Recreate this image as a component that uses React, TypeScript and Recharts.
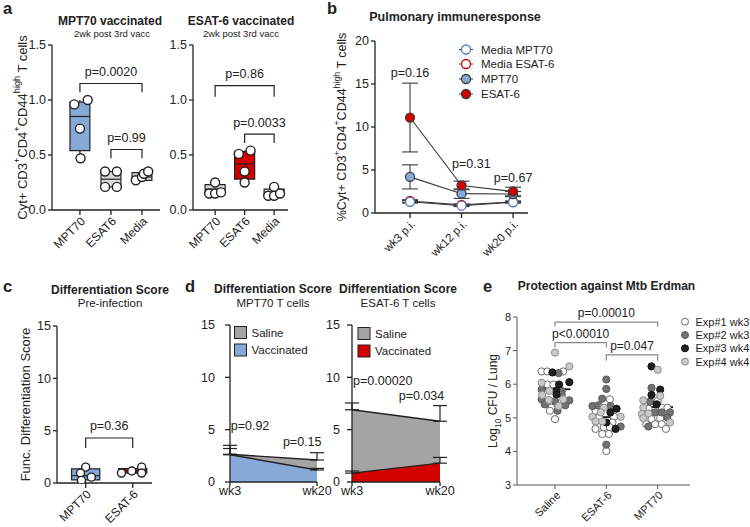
import React from "react";
import {
  ComposedChart,
  Line,
  Area,
  Scatter,
  XAxis,
  YAxis,
  ReferenceArea,
  ReferenceLine,
  ReferenceDot,
  ErrorBar,
} from "recharts";

const FONT = "'Liberation Sans', Arial, Helvetica, sans-serif";
const INK = "#222222";
const BLUE = "#86a9d8";
const BLUE_EDGE = "#4d7cc4";
const RED = "#d40000";
const PALE = "#dadada";
const SALINE_GREY = "#a4a4a4";

// ---- a: restimulation 2wk post 3rd vacc ----
const STIM = ["MPT70", "ESAT6", "Media"];
// [min, q1, median, q3, max]
const MPT70_VAC_STATS = [
  [0.47, 0.54, 0.85, 0.98, 1.0],
  [0.21, 0.21, 0.28, 0.35, 0.35],
  [0.27, 0.27, 0.3, 0.34, 0.35],
];
// [jitter, value]
const MPT70_VAC_PTS = [
  [[0.02, 0.47], [0, 0.74], [-0.18, 0.96], [0.25, 1.0]],
  [[-0.19, 0.35], [0.19, 0.35], [-0.19, 0.21], [0.19, 0.21]],
  [[-0.2, 0.27], [0, 0.3], [0.06, 0.33], [0.2, 0.35]],
];
const MPT70_VAC_P = [
  { from: 0, to: 2, top: 1.15, drop: 1.07, label: "p=0.0020" },
  { from: 1, to: 2, top: 0.55, drop: 0.47, label: "p=0.99" },
];

const ESAT6_VAC_STATS = [
  [0.15, 0.15, 0.19, 0.23, 0.25],
  [0.25, 0.28, 0.42, 0.53, 0.54],
  [0.13, 0.13, 0.16, 0.19, 0.21],
];
const ESAT6_VAC_PTS = [
  [[0, 0.25], [-0.2, 0.15], [0, 0.15], [0.2, 0.16]],
  [[-0.2, 0.51], [0.2, 0.54], [0, 0.35], [0, 0.25]],
  [[0, 0.21], [-0.2, 0.13], [0, 0.13], [0.2, 0.15]],
];
const ESAT6_VAC_P = [
  { from: 0, to: 2, top: 1.13, drop: 1.03, label: "p=0.86" },
  { from: 1, to: 2, top: 0.69, drop: 0.61, label: "p=0.0033" },
];

// ---- b: pulmonary response ----
const WEEKS_B = ["wk3 p.i.", "wk12 p.i.", "wk20 p.i."];
const MEDIA_MPT70 = [1.3, 0.85, 1.25];
const MEDIA_ESAT6 = [1.4, 0.95, 1.3];
const MEDIA_ERR = [0.15, 0.1, 0.1];
const MPT70_LUNG = [4.2, 2.25, 2.2];
const MPT70_LUNG_ERR = [1.4, 0.55, 0.3];
const ESAT6_LUNG = [11.1, 3.2, 2.5];
const ESAT6_LUNG_ERR = [4.0, 0.5, 0.5];
const LUNG_P = [
  { x: 0, y: 16.3, label: "p=0.16" },
  { x: 1.19, y: 5.8, label: "p=0.31" },
  { x: 2, y: 4.1, label: "p=0.67" },
];

// ---- c: pre-infection score ----
const PRE_GROUPS = ["MPT70", "ESAT-6"];
const PRE_STATS = [
  [0.25, 0.3, 0.7, 1.35, 1.55],
  [0.95, 0.95, 1.15, 1.38, 1.52],
];
const PRE_PTS = [
  [[0, 1.52], [-0.11, 0.95], [0.12, 0.56], [-0.09, 0.25]],
  [[0.19, 1.52], [-0.02, 1.15], [0.19, 0.95], [-0.24, 0.95]],
];
const PRE_P = [{ from: 0, to: 1, top: 4.3, drop: 3.35, label: "p=0.36" }];

// ---- d: score over time ----
const D_WEEKS = ["wk3", "wk20"];
const MPT70_SALINE = [2.65, 2.1];
const MPT70_SALINE_ERR = [0.85, 0.7];
const MPT70_VACC = [2.6, 1.15];
const MPT70_VACC_ERR = [0.6, 0.15];
const MPT70_D_P = [
  { x: 0.23, y: 5.4, label: "p=0.92" },
  { x: 0.83, y: 3.9, label: "p=0.15" },
];
const ESAT6_SALINE = [6.9, 5.8];
const ESAT6_SALINE_ERR = [0.65, 1.5];
const ESAT6_VACC = [0.85, 1.8];
const ESAT6_VACC_ERR = [0.2, 0.55];
const ESAT6_D_P = [
  { x: 0.35, y: 9.7, label: "p=0.00020" },
  { x: 0.79, y: 8.27, label: "p=0.034" },
];

// ---- e: protection ----
const GROUPS_E = ["Saline", "ESAT-6", "MPT70"];
const EXP_NAMES = ["Exp#1 wk3", "Exp#2 wk3", "Exp#3 wk4", "Exp#4 wk4"];
// per group: [jitter, log10 CFU]
const EXP1_CFU = [
  [[-0.26, 6.38], [-0.15, 6.38], [0.16, 6.38], [-0.15, 5.99], [-0.03, 5.99], [-0.07, 5.3], [-0.1, 5.21], [0, 4.96]],
  [[0.07, 5.55], [-0.21, 5.21], [-0.14, 5.01], [0.15, 5.03], [0.12, 4.86], [-0.21, 4.67], [-0.05, 4.72], [0.07, 4.72], [-0.08, 4.52], [0.05, 4.52], [0, 4.01]],
  [[0, 5.5], [-0.18, 5.27], [0.08, 5.3], [0.19, 5.3], [-0.12, 4.96], [0.05, 4.99], [-0.22, 4.81], [-0.05, 4.81], [0.08, 4.81], [0.16, 4.67]],
];
const EXP2_CFU = [
  [[0.07, 6.33], [-0.26, 5.84], [0.13, 5.8], [0.13, 5.7], [-0.26, 5.55], [0, 5.5], [0.28, 5.52], [-0.2, 5.4], [0.2, 5.37], [0.05, 5.21]],
  [[0, 6.14], [0, 5.86], [-0.08, 5.57], [-0.27, 5.35], [-0.16, 5.37], [0.08, 5.35], [0.28, 4.74], [0, 4.2]],
  [[-0.12, 5.89], [-0.15, 5.48], [-0.05, 5.16], [0.08, 5.16], [0.24, 5.16], [0.19, 5.01], [-0.18, 4.74]],
];
const EXP3_CFU = [
  [[-0.05, 6.35], [0.08, 5.99], [0.28, 6.06], [0.02, 5.8], [0.03, 5.7]],
  [[0.2, 5.27], [0.08, 5.16], [0, 4.86], [0.18, 4.67]],
  [[-0.12, 6.53], [0.05, 5.84], [-0.12, 5.68], [-0.02, 5.4]],
];
const EXP4_CFU = [
  [[0, 6.94], [0.28, 6.53], [-0.26, 6.04], [-0.11, 5.8], [-0.25, 5.68], [-0.12, 5.53], [0.16, 5.55], [0.07, 5.35]],
  [[-0.05, 5.3], [-0.11, 5.16], [-0.27, 5.03], [0.28, 5.03], [-0.21, 4.89], [-0.08, 4.89]],
  [[0, 6.43], [0.05, 5.65], [-0.28, 5.52], [-0.28, 5.3], [-0.31, 5.11], [-0.18, 5.13], [-0.28, 4.99], [0.24, 4.86]],
];
const CFU_MEANS = [5.85, 5.02, 5.32];
const CFU_P = [
  { from: 0, to: 2, top: 7.85, drop: 7.72, label: "p=0.00010" },
  { from: 0, to: 1, top: 7.24, drop: 7.09, label: "p<0.00010" },
  { from: 1, to: 2, top: 6.87, drop: 6.7, label: "p=0.047" },
];

const EXP_FILL = ["#ffffff", "#727272", "#1f1f1f", "#cacaca"];
const EXP_EDGE = ["#6a6a6a", "#5a5a5a", "#111111", "#8c8c8c"];

const A_YLABEL = [["Cyt+ CD3"], ["+", "sup"], ["CD4"], ["+", "sup"], ["CD44"], ["high", "sup"], [" T cells"]];
const B_YLABEL = [["%Cyt+ CD3"], ["+", "sup"], ["CD4"], ["+", "sup"], ["CD44"], ["high", "sup"], [" T cells"]];
const C_YLABEL = [["Func. Differentiation Score"]];
const E_YLABEL = [["Log"], ["10", "sub"], [" CFU / Lung"]];

const axisLine = { stroke: INK, strokeWidth: 1.3 };
const tickLine = { stroke: INK, strokeWidth: 1.3 };

function VTitle(props: any) {
  const { viewBox, dx, size, parts } = props;
  const x = (viewBox?.x ?? 0) + dx;
  const y = (viewBox?.y ?? 0) + (viewBox?.height ?? 0) / 2;
  return (
    <text
      x={x}
      y={y}
      transform={`rotate(-90 ${x} ${y})`}
      textAnchor="middle"
      dominantBaseline="central"
      fontSize={size}
      fill={INK}
      fontFamily={FONT}
    >
      {parts.map((p: string[], i: number) =>
        p[1] ? (
          <tspan key={i} baselineShift={p[1] === "sup" ? "super" : "sub"} fontSize="70%">
            {p[0]}
          </tspan>
        ) : (
          <tspan key={i}>{p[0]}</tspan>
        )
      )}
    </text>
  );
}

function SlantTick(props: any) {
  const { x, y, payload, names, size } = props;
  const ax = x + 6;
  const ay = y + 5;
  return (
    <text
      x={ax}
      y={ay}
      transform={`rotate(-45 ${ax} ${ay})`}
      textAnchor="end"
      fontSize={size}
      fill={INK}
      fontFamily={FONT}
    >
      {names[payload.value]}
    </text>
  );
}

function bracketLine(b: any, key: string, color: string) {
  const pts = [
    { x: b.from, y: b.drop },
    { x: b.from, y: b.top },
    { x: b.to, y: b.top },
    { x: b.to, y: b.drop },
  ];
  return (
    <Line
      key={key}
      data={pts}
      dataKey="y"
      stroke={color}
      strokeWidth={1.2}
      dot={false}
      activeDot={false}
      isAnimationActive={false}
    />
  );
}

function BoxChart(props: any) {
  const {
    left, top, width, height, plotTop, right, yAxisW, xAxisH, xDomain, yDomain, yTicks,
    yFmt, names, stats, pts, fills, brackets, half, dotR, yTitle,
  } = props;
  const dot = (p: any) => (
    <circle cx={p.cx} cy={p.cy} r={dotR} fill="#fff" stroke={INK} strokeWidth={1.4} />
  );
  return (
    <div style={{ position: "absolute", left, top }}>
      <ComposedChart width={width} height={height} margin={{ top: plotTop, right, bottom: 0, left: 0 }}>
        <XAxis
          type="number"
          dataKey="x"
          domain={xDomain}
          ticks={names.map((_: string, i: number) => i)}
          interval={0}
          allowDataOverflow
          height={xAxisH}
          axisLine={axisLine}
          tickLine={tickLine}
          tickSize={5}
          tick={<SlantTick names={names} size={12} />}
        />
        <YAxis
          type="number"
          domain={yDomain}
          ticks={yTicks}
          allowDataOverflow
          width={yAxisW}
          tickFormatter={yFmt}
          axisLine={axisLine}
          tickLine={tickLine}
          tickSize={4}
          tickMargin={2}
          tick={{ fontSize: 12.5, fill: INK, fontFamily: FONT }}
          label={yTitle}
        />
        {stats.map((s: number[], i: number) => [
          <ReferenceArea
            key={`box${i}`}
            x1={i - half}
            x2={i + half}
            y1={s[1]}
            y2={s[3]}
            fill={fills[i]}
            fillOpacity={1}
            stroke={INK}
            strokeWidth={1.2}
            ifOverflow="visible"
          />,
          <ReferenceLine key={`med${i}`} segment={[{ x: i - half, y: s[2] }, { x: i + half, y: s[2] }]} stroke={INK} strokeWidth={1.2} />,
          <ReferenceLine key={`wu${i}`} segment={[{ x: i, y: s[3] }, { x: i, y: s[4] }]} stroke={INK} strokeWidth={1.2} />,
          <ReferenceLine key={`wl${i}`} segment={[{ x: i, y: s[0] }, { x: i, y: s[1] }]} stroke={INK} strokeWidth={1.2} />,
        ])}
        {pts.map((g: number[][], i: number) => (
          <Scatter
            key={`pts${i}`}
            data={g.map(([j, v]) => ({ x: i + j, y: v }))}
            dataKey="y"
            shape={dot}
            isAnimationActive={false}
          />
        ))}
        {brackets.map((b: any, i: number) => bracketLine(b, `br${i}`, INK))}
        {brackets.map((b: any, i: number) => (
          <ReferenceDot
            key={`bl${i}`}
            x={(b.from + b.to) / 2}
            y={b.top}
            r={0}
            fill="none"
            stroke="none"
            label={{ value: b.label, position: "top", offset: 7.5, fontSize: 12.5, fill: INK, fontFamily: FONT }}
          />
        ))}
      </ComposedChart>
    </div>
  );
}

function LungChart() {
  const rows = WEEKS_B.map((_, i) => ({
    x: i,
    mediaMpt70: MEDIA_MPT70[i],
    mediaEsat6: MEDIA_ESAT6[i],
    mpt70: MPT70_LUNG[i],
    esat6: ESAT6_LUNG[i],
    mediaErr: MEDIA_ERR[i],
    mpt70Err: MPT70_LUNG_ERR[i],
    esat6Err: ESAT6_LUNG_ERR[i],
  }));
  const series = [
    { key: "mediaEsat6", err: "mediaErr", fill: "#fff", edge: RED },
    { key: "mediaMpt70", err: "mediaErr", fill: "#fff", edge: BLUE_EDGE },
    { key: "mpt70", err: "mpt70Err", fill: BLUE, edge: "#3a3a3a" },
    { key: "esat6", err: "esat6Err", fill: RED, edge: "#3a3a3a" },
  ];
  return (
    <div style={{ position: "absolute", left: 300, top: 0 }}>
      <ComposedChart width={240} height={270} data={rows} margin={{ top: 41, right: 12, bottom: 0, left: 0 }}>
        <XAxis
          type="number"
          dataKey="x"
          domain={[-0.68, 2.29]}
          ticks={[0, 1, 2]}
          interval={0}
          allowDataOverflow
          height={57}
          axisLine={axisLine}
          tickLine={tickLine}
          tickSize={5}
          tick={<SlantTick names={WEEKS_B} size={11.5} />}
        />
        <YAxis
          type="number"
          domain={[0, 20]}
          ticks={[0, 5, 10, 15, 20]}
          allowDataOverflow
          width={75}
          axisLine={axisLine}
          tickLine={tickLine}
          tickSize={4}
          tickMargin={2}
          tick={{ fontSize: 12.5, fill: INK, fontFamily: FONT }}
          label={<VTitle dx={42} size={12.5} parts={B_YLABEL} />}
        />
        {series.map((s) => (
          <Line
            key={s.key}
            type="linear"
            dataKey={s.key}
            stroke="#3a3a3a"
            strokeWidth={1.1}
            dot={{ r: 4.5, fill: s.fill, stroke: s.edge, strokeWidth: 1.3 }}
            activeDot={false}
            isAnimationActive={false}
          >
            <ErrorBar dataKey={s.err} width={8} stroke="#3a3a3a" strokeWidth={1.1} />
          </Line>
        ))}
        {LUNG_P.map((p, i) => (
          <ReferenceDot
            key={i}
            x={p.x}
            y={p.y}
            r={0}
            fill="none"
            stroke="none"
            label={{ value: p.label, position: "center", fontSize: 12.5, fill: INK, fontFamily: FONT }}
          />
        ))}
      </ComposedChart>
    </div>
  );
}

function DiffChart(props: any) {
  const { left, width, yAxisW, right, tickGap, saline, salineErr, vacc, vaccErr, vaccFill, notes } = props;
  const rows = D_WEEKS.map((_, i) => ({
    x: i,
    saline: saline[i],
    vacc: vacc[i],
    salineErr: [0, salineErr[i]],
    vaccErr: [0, vaccErr[i]],
  }));
  return (
    <div style={{ position: "absolute", left, top: 270 }}>
      <ComposedChart width={width} height={257} data={rows} margin={{ top: 55, right, bottom: 0, left: 0 }}>
        <XAxis
          type="number"
          dataKey="x"
          domain={[0, 1]}
          ticks={[0, 1]}
          interval={0}
          allowDataOverflow
          height={45}
          axisLine={axisLine}
          tickLine={tickLine}
          tickSize={4}
          tickMargin={0}
          tickFormatter={(v: number) => D_WEEKS[v]}
          tick={{ fontSize: 12.5, fill: INK, fontFamily: FONT }}
        />
        <YAxis
          type="number"
          domain={[0, 15]}
          ticks={[0, 5, 10, 15]}
          allowDataOverflow
          width={yAxisW}
          axisLine={axisLine}
          tickLine={tickLine}
          tickSize={5}
          tickMargin={tickGap}
          tick={{ fontSize: 12.5, fill: INK, fontFamily: FONT }}
        />
        <Area type="linear" dataKey="saline" fill={SALINE_GREY} fillOpacity={1} stroke="none" isAnimationActive={false} />
        <Area type="linear" dataKey="vacc" fill={vaccFill} fillOpacity={1} stroke="none" isAnimationActive={false} />
        <Line type="linear" dataKey="saline" stroke={INK} strokeWidth={1.4} dot={false} activeDot={false} isAnimationActive={false}>
          <ErrorBar dataKey="salineErr" width={7} stroke={INK} strokeWidth={1.2} />
        </Line>
        <Line type="linear" dataKey="vacc" stroke={INK} strokeWidth={1.4} dot={false} activeDot={false} isAnimationActive={false}>
          <ErrorBar dataKey="vaccErr" width={7} stroke={INK} strokeWidth={1.2} />
        </Line>
        {notes.map((p: any, i: number) => (
          <ReferenceDot
            key={i}
            x={p.x}
            y={p.y}
            r={0}
            fill="none"
            stroke="none"
            ifOverflow="visible"
            label={{ value: p.label, position: "center", fontSize: 12.5, fill: INK, fontFamily: FONT }}
          />
        ))}
      </ComposedChart>
    </div>
  );
}

function ProtectionChart() {
  const exps = [EXP1_CFU, EXP2_CFU, EXP3_CFU, EXP4_CFU];
  return (
    <div style={{ position: "absolute", left: 450, top: 270 }}>
      <ComposedChart width={250} height={257} margin={{ top: 47, right: 10, bottom: 0, left: 0 }}>
        <XAxis
          type="number"
          dataKey="x"
          domain={[-0.74, 2.63]}
          ticks={[0, 1, 2]}
          interval={0}
          allowDataOverflow
          height={42}
          axisLine={{ stroke: "#555", strokeWidth: 1 }}
          tickLine={{ stroke: "#555", strokeWidth: 1 }}
          tickSize={4}
          tick={<SlantTick names={GROUPS_E} size={11} />}
        />
        <YAxis
          type="number"
          domain={[3, 8]}
          ticks={[3, 4, 5, 6, 7, 8]}
          allowDataOverflow
          width={67}
          axisLine={{ stroke: "#555", strokeWidth: 1 }}
          tickLine={{ stroke: "#555", strokeWidth: 1 }}
          tickSize={4}
          tickMargin={2}
          tick={{ fontSize: 11, fill: INK, fontFamily: FONT }}
          label={<VTitle dx={43} size={12} parts={E_YLABEL} />}
        />
        {exps.map((exp, k) => (
          <Scatter
            key={EXP_NAMES[k]}
            data={exp.flatMap((g, i) => g.map(([j, v]) => ({ x: i + j, y: v })))}
            dataKey="y"
            isAnimationActive={false}
            shape={(p: any) => (
              <circle cx={p.cx} cy={p.cy} r={3.6} fill={EXP_FILL[k]} stroke={EXP_EDGE[k]} strokeWidth={1} />
            )}
          />
        ))}
        {CFU_MEANS.map((m, i) => (
          <ReferenceLine key={`mean${i}`} segment={[{ x: i - 0.3, y: m }, { x: i + 0.3, y: m }]} stroke="#111" strokeWidth={1.8} />
        ))}
        {CFU_P.map((b, i) => bracketLine(b, `br${i}`, "#888"))}
        {CFU_P.map((b, i) => (
          <ReferenceDot
            key={`bl${i}`}
            x={(b.from + b.to) / 2}
            y={b.top}
            r={0}
            fill="none"
            stroke="none"
            label={{ value: b.label, position: "top", offset: 5, fontSize: 12, fill: INK, fontFamily: FONT }}
          />
        ))}
      </ComposedChart>
    </div>
  );
}

function Overlay() {
  const t = (x: number, y: number, s: string, size: number, bold = false, anchor = "middle") => (
    <text
      key={`${s}${x}${y}`}
      x={x}
      y={y}
      fontSize={size}
      fontWeight={bold ? "bold" : "normal"}
      textAnchor={anchor}
      fill={INK}
      fontFamily={FONT}
    >
      {s}
    </text>
  );
  const lungLegend = [
    { name: "Media MPT70", fill: "#fff", edge: BLUE_EDGE },
    { name: "Media ESAT-6", fill: "#fff", edge: RED },
    { name: "MPT70", fill: BLUE, edge: "#3a3a3a" },
    { name: "ESAT-6", fill: RED, edge: "#3a3a3a" },
  ];
  const lungRows = [49.5, 64, 79, 94];
  return (
    <svg width={750} height={527} style={{ position: "absolute", left: 0, top: 0, pointerEvents: "none" }}>
      {t(3, 13.5, "a", 16.5, true, "start")}
      {t(327, 13.5, "b", 16.5, true, "start")}
      {t(3, 291.5, "c", 16.5, true, "start")}
      {t(185, 291.5, "d", 16.5, true, "start")}
      {t(483, 291.5, "e", 16.5, true, "start")}
      {t(110, 25, "MPT70 vaccinated", 12, true)}
      {t(112, 37, "2wk post 3rd vacc", 9.5)}
      {t(241, 25, "ESAT-6 vaccinated", 12, true)}
      {t(241, 37, "2wk post 3rd vacc", 9.5)}
      {t(455, 20.5, "Pulmonary immuneresponse", 12.5, true)}
      {t(110, 293.5, "Differentiation Score", 12, true)}
      {t(110, 307, "Pre-infection", 11.5)}
      {t(273, 292.7, "Differentiation Score", 12, true)}
      {t(273, 307.3, "MPT70 T cells", 11.5)}
      {t(398, 292.7, "Differentiation Score", 12, true)}
      {t(398, 307.3, "ESAT-6 T cells", 11.5)}
      {t(606.5, 290, "Protection against Mtb Erdman", 12, true)}

      {lungLegend.map((l, i) => (
        <g key={l.name}>
          <line x1={459} x2={473} y1={lungRows[i]} y2={lungRows[i]} stroke="#3a3a3a" strokeWidth={1} />
          <circle cx={466} cy={lungRows[i]} r={4.5} fill={l.fill} stroke={l.edge} strokeWidth={1.3} />
          {t(481, lungRows[i] + 4, l.name, 11.5, false, "start")}
        </g>
      ))}

      {[
        { x: 234.5, rows: [332.5, 350], fill: BLUE },
        { x: 358, rows: [333.5, 351], fill: RED },
      ].map((lg) => (
        <g key={lg.x}>
          <rect x={lg.x} y={lg.rows[0] - 6} width={12} height={12} fill={SALINE_GREY} stroke={INK} strokeWidth={1} />
          <rect x={lg.x} y={lg.rows[1] - 6} width={12} height={12} fill={lg.fill} stroke={INK} strokeWidth={1} />
          {t(lg.x + 17, lg.rows[0] + 4, "Saline", 11.5, false, "start")}
          {t(lg.x + 17, lg.rows[1] + 4, "Vaccinated", 11.5, false, "start")}
        </g>
      ))}

      {EXP_NAMES.map((n, i) => (
        <g key={n}>
          <circle cx={685} cy={321.7 + i * 13.3} r={3.5} fill={EXP_FILL[i]} stroke={EXP_EDGE[i]} strokeWidth={1} />
          {t(695.5, 321.7 + i * 13.3 + 4, n, 11, false, "start")}
        </g>
      ))}
    </svg>
  );
}

export default function App() {
  return (
    <div style={{ position: "absolute", left: 0, top: 0, width: 750, height: 527, background: "#fff", overflow: "hidden" }}>
      <BoxChart
        left={0}
        top={0}
        width={170}
        height={270}
        plotTop={45}
        right={10}
        yAxisW={52}
        xAxisH={60}
        xDomain={[-0.9, 2.58]}
        yDomain={[0, 1.5]}
        yTicks={[0, 0.5, 1, 1.5]}
        yFmt={(v: number) => v.toFixed(1)}
        names={STIM}
        stats={MPT70_VAC_STATS}
        pts={MPT70_VAC_PTS}
        fills={[BLUE, PALE, PALE]}
        brackets={MPT70_VAC_P}
        half={0.32}
        dotR={4.5}
        yTitle={<VTitle dx={22} size={13} parts={A_YLABEL} />}
      />
      <BoxChart
        left={165}
        top={0}
        width={135}
        height={270}
        plotTop={45}
        right={12}
        yAxisW={28}
        xAxisH={60}
        xDomain={[-0.75, 2.47]}
        yDomain={[0, 1.5]}
        yTicks={[0, 0.5, 1, 1.5]}
        yFmt={(v: number) => v.toFixed(1)}
        names={STIM}
        stats={ESAT6_VAC_STATS}
        pts={ESAT6_VAC_PTS}
        fills={[PALE, RED, PALE]}
        brackets={ESAT6_VAC_P}
        half={0.34}
        dotR={4.5}
      />
      <LungChart />
      <BoxChart
        left={0}
        top={270}
        width={165}
        height={257}
        plotTop={56}
        right={13}
        yAxisW={57}
        xAxisH={44}
        xDomain={[-0.61, 1.41]}
        yDomain={[0, 15]}
        yTicks={[0, 5, 10, 15]}
        yFmt={(v: number) => String(v)}
        names={PRE_GROUPS}
        stats={PRE_STATS}
        pts={PRE_PTS}
        fills={[BLUE, RED]}
        brackets={PRE_P}
        half={0.3}
        dotR={4}
        yTitle={<VTitle dx={25} size={13} parts={C_YLABEL} />}
      />
      <DiffChart
        left={185}
        width={165}
        yAxisW={45}
        right={33}
        tickGap={10}
        saline={MPT70_SALINE}
        salineErr={MPT70_SALINE_ERR}
        vacc={MPT70_VACC}
        vaccErr={MPT70_VACC_ERR}
        vaccFill={BLUE}
        notes={MPT70_D_P}
      />
      <DiffChart
        left={300}
        width={160}
        yAxisW={52}
        right={20}
        tickGap={7}
        saline={ESAT6_SALINE}
        salineErr={ESAT6_SALINE_ERR}
        vacc={ESAT6_VACC}
        vaccErr={ESAT6_VACC_ERR}
        vaccFill={RED}
        notes={ESAT6_D_P}
      />
      <ProtectionChart />
      <Overlay />
    </div>
  );
}
